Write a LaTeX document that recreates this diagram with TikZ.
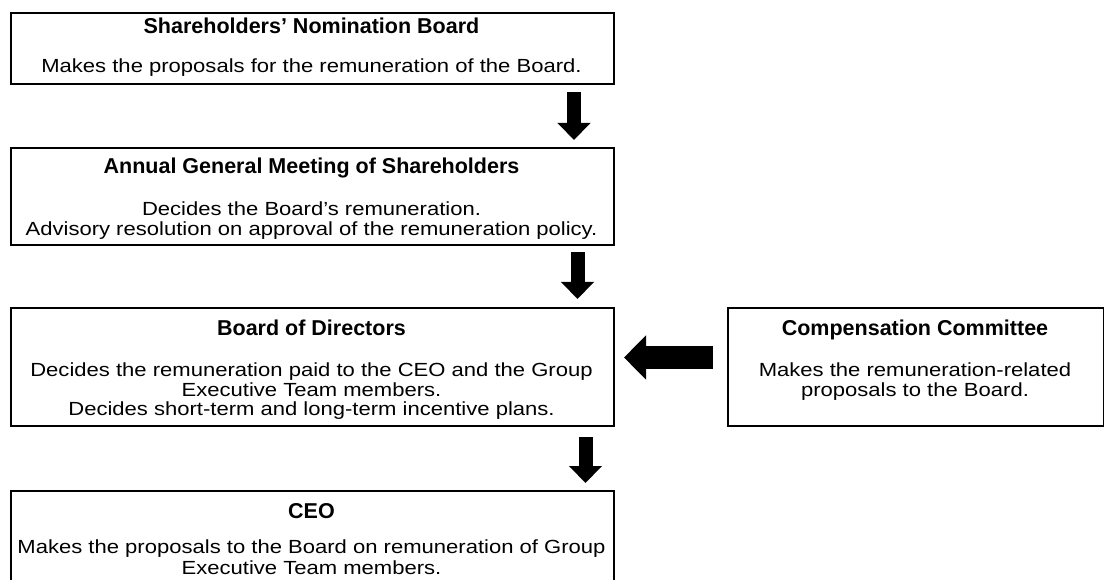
\documentclass[tikz,border=0pt]{standalone}
\usepackage{fontspec}
\setmainfont{Liberation Sans}
\newfontfamily\bodyfnt[FakeStretch=1.16]{Liberation Sans}
\newfontfamily\titlefnt{Liberation Sans}
\usetikzlibrary{arrows.meta}
\tikzset{
  box/.style={draw=black, line width=2pt, anchor=north west, inner sep=0pt},
  ttl/.style={font=\titlefnt\bfseries\fontsize{21.5}{24}\selectfont, anchor=base, inner sep=0pt},
  ln/.style={font=\bodyfnt\fontsize{19}{21}\selectfont, anchor=base, inner sep=0pt},
  varrow/.style={line width=14pt, -{Triangle[width=32pt,length=17pt]}},
  harrow/.style={line width=23pt, -{Triangle[width=43pt,length=22pt]}},
}
\begin{document}
\begin{tikzpicture}[x=1pt,y=-1pt]
\useasboundingbox (0,0) rectangle (1104,580);
\clip (0,0) rectangle (1104,580);
% boxes
\node[box, minimum width=603pt, minimum height=71pt] (b1) at (10,12) {};
\node[box, minimum width=603pt, minimum height=97pt] (b2) at (10,147) {};
\node[box, minimum width=603pt, minimum height=118pt] (b3) at (10,307) {};
\node[box, minimum width=376pt, minimum height=118pt] (b4) at (727,307) {};
\node[box, minimum width=603pt, minimum height=130pt] (b5) at (10,490) {};
% texts
\node[ttl] (t1) at (311.5,34) {Shareholders’ Nomination Board};
\node[ln] (d1) at (311.5,73) {Makes the proposals for the remuneration of the Board.};
\node[ttl] (t2) at (311.5,174) {Annual General Meeting of Shareholders};
\node[ln] (d2a) at (311.5,216) {Decides the Board’s remuneration.};
\node[ln] (d2b) at (311.5,236) {Advisory resolution on approval of the remuneration policy.};
\node[ttl] (t3) at (311.5,335) {Board of Directors};
\node[ln] (d3a) at (311.5,376) {Decides the remuneration paid to the CEO and the Group};
\node[ln] (d3b) at (311.5,396) {Executive Team members.};
\node[ln] (d3c) at (311.5,415) {Decides short-term and long-term incentive plans.};
\node[ttl] (t4) at (915,335) {Compensation Committee};
\node[ln] (d4a) at (915,376) {Makes the remuneration-related};
\node[ln] (d4b) at (915,396) {proposals to the Board.};
\node[ttl] (t5) at (311.5,518) {CEO};
\node[ln] (d5a) at (311.5,553) {Makes the proposals to the Board on remuneration of Group};
\node[ln] (d5b) at (311.5,574) {Executive Team members.};
% arrows
\draw[varrow] ([xshift=261.5pt,yshift=-7pt]b1.south) -- ([xshift=261.5pt,yshift=7pt]b2.north);
\draw[varrow] ([xshift=265pt,yshift=-6pt]b2.south) -- ([xshift=265pt,yshift=8pt]b3.north);
\draw[varrow] ([xshift=273pt,yshift=-10pt]b3.south) -- ([xshift=273pt,yshift=7pt]b5.north);
\draw[harrow] ([xshift=-14pt,yshift=9.5pt]b4.west) -- ([xshift=9pt,yshift=9.5pt]b3.east);
\end{tikzpicture}
\end{document}
